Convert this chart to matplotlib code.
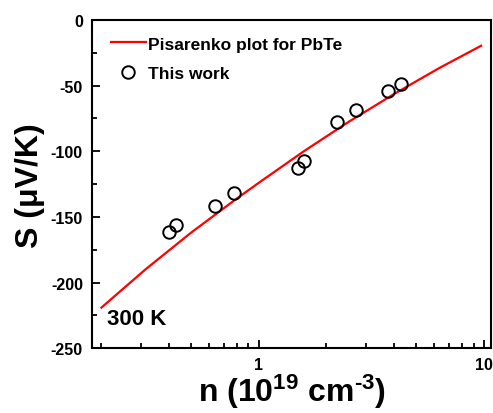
import matplotlib
matplotlib.use("Agg")
import matplotlib.pyplot as plt
from matplotlib.ticker import FixedLocator, LogLocator, NullFormatter, FixedFormatter, MultipleLocator

plt.rcParams['font.family'] = ['Liberation Sans', 'DejaVu Sans']
plt.rcParams['font.weight'] = 'bold'
plt.rcParams['axes.unicode_minus'] = False
plt.rcParams['mathtext.fontset'] = 'custom'
plt.rcParams['mathtext.rm'] = 'Liberation Sans:bold'
plt.rcParams['mathtext.bf'] = 'Liberation Sans:bold'
plt.rcParams['mathtext.it'] = 'Liberation Sans:bold'

# Pisarenko curve for PbTe
pis_n = [0.2, 0.316, 0.5, 0.794, 1.0, 1.585, 2.512, 3.981, 6.31, 9.73]
pis_S = [-219, -189.5, -162, -136.3, -124, -100, -77.5, -56.5, -36.8, -19.6]

# measured samples, "This work"
work_n = [0.40, 0.43, 0.638, 0.78, 1.50, 1.59, 2.22, 2.71, 3.76, 4.29]
work_S = [-161.8, -156.3, -141.8, -131.9, -112.8, -107.2, -78.0, -68.6, -53.9, -49.0]

fig = plt.figure(figsize=(4.93, 4.14), dpi=100)
ax = fig.add_axes([0.1866, 0.1563, 0.81, 0.793])

ax.plot(pis_n, pis_S, color='#ff0000', lw=1.6, label='Pisarenko plot for PbTe')
ax.plot(work_n, work_S, 'o', ms=9, mfc='none', mec='black', mew=1.4, label='This work')

ax.set_xscale('log')
ax.set_xlim(0.1816, 10.8)
ax.set_ylim(-250, 0)

ax.xaxis.set_major_locator(FixedLocator([1, 10]))
ax.xaxis.set_major_formatter(FixedFormatter(['1', '10']))
ax.xaxis.set_minor_locator(LogLocator(base=10, subs=[2, 3, 4, 5, 6, 7, 8, 9]))
ax.xaxis.set_minor_formatter(NullFormatter())
ax.yaxis.set_major_locator(MultipleLocator(50))
ax.yaxis.set_minor_locator(MultipleLocator(25))

ax.tick_params(which='both', direction='in', width=1.3, labelsize=11.5)
ax.tick_params(which='major', length=6)
ax.tick_params(which='minor', length=3.5)
ax.tick_params(axis='x', which='major', pad=6)
ax.tick_params(axis='y', which='major', pad=6.5)
for s in ax.spines.values():
    s.set_linewidth(1.5)
for lab in ax.get_xticklabels() + ax.get_yticklabels():
    lab.set_fontweight('bold')

ax.set_ylabel(u'S (\u03bcV/K)', fontsize=23, fontweight='bold', labelpad=4)
ax.set_xlabel(r'n (10$^{19}$ cm$^{\text{-3}}$)', fontsize=23, fontweight='bold', labelpad=0)

ax.text(0.037, 0.074, '300 K', transform=ax.transAxes, fontsize=16,
        fontweight='bold', va='baseline', ha='left')

ax.legend(loc='upper left', bbox_to_anchor=(0.0476, 0.95), frameon=False,
          borderpad=0, borderaxespad=0, handlelength=2.0, handletextpad=0.15,
          labelspacing=0.85, prop={'weight': 'bold', 'size': 12.5})

fig.savefig('out.png', dpi=100)
